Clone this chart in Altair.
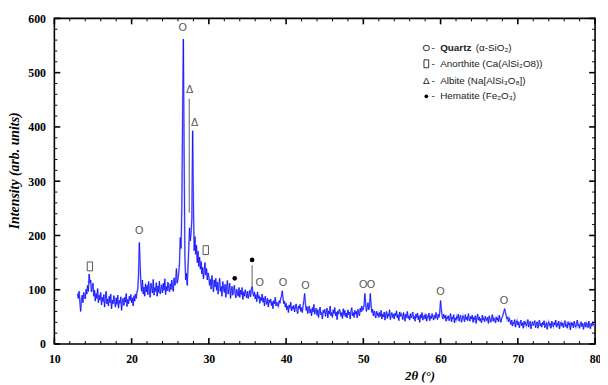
import altair as alt
import pandas as pd

# ---------------- data ----------------
start_angle = 13.0   # first measured 2-theta
angle_step = 0.1     # measurement step

intensity = [
    93, 84, 97, 78, 60, 82, 90, 76, 95, 88,        # 13
    83, 101, 92, 108, 97, 129, 112, 118, 96, 104,  # 14
    112, 88, 99, 79, 93, 84, 102, 76, 90, 81,      # 15
    95, 72, 86, 78, 91, 68, 84, 97, 74, 83,        # 16
    70, 88, 76, 92, 65, 81, 74, 89, 79, 68,        # 17
    85, 73, 90, 66, 80, 75, 87, 62, 79, 84,        # 18
    71, 86, 77, 93, 69, 82, 74, 88, 80, 91,        # 19
    76, 85, 70, 89, 79, 92, 84, 96, 101, 130,      # 20
    187, 148, 112, 97, 118, 92, 105, 88, 111, 96,  # 21
    108, 91, 115, 99, 86, 112, 103, 94, 119, 90,   # 22
    104, 97, 113, 88, 107, 95, 116, 92, 101, 109,  # 23
    94, 112, 99, 120, 91, 106, 98, 114, 103, 96,   # 24
    111, 100, 118, 104, 97, 122, 108, 115, 139, 112,  # 25
    120, 131, 150, 196, 176, 250, 420, 562, 346, 160,  # 26
    118, 130, 108, 142, 175, 214, 190, 205, 232, 393,  # 27
    260, 172, 198, 165, 182, 150, 171, 143, 160, 138,  # 28
    152, 129, 141, 120, 136, 150, 127, 139, 118, 131,  # 29
    124, 108, 119, 101, 126, 112, 96, 118, 105, 121,   # 30
    99, 114, 92, 110, 121, 97, 106, 88, 115, 103,      # 31
    95, 110, 86, 104, 117, 92, 101, 112, 84, 98,       # 32
    106, 90, 99, 108, 93, 85, 101, 94, 88, 104,        # 33
    86, 99, 91, 104, 82, 96, 88, 100, 93, 85,          # 34
    97, 84, 92, 99, 87, 101, 106, 94, 88, 96,          # 35
    83, 91, 78, 96, 84, 89, 75, 86, 80, 92,            # 36
    77, 85, 70, 88, 79, 73, 84, 68, 81, 76,            # 37
    83, 71, 78, 65, 80, 74, 86, 70, 77, 72,            # 38
    69, 80, 75, 84, 88, 98, 85, 74, 79, 68,            # 39
    75, 63, 70, 58, 72, 66, 77, 61, 69, 64,            # 40
    71, 59, 68, 74, 62, 56, 70, 65, 73, 60,            # 41
    67, 58, 71, 80, 93, 75, 62, 69, 56, 64,            # 42
    70, 57, 64, 52, 67, 59, 73, 55, 62, 66,            # 43
    53, 63, 49, 60, 68, 54, 58, 46, 62, 57,            # 44
    64, 51, 59, 66, 48, 61, 55, 70, 52, 58,            # 45
    49, 63, 56, 67, 52, 59, 45, 61, 55, 64,            # 46
    60, 51, 58, 47, 65, 53, 62, 50, 57, 48,            # 47
    63, 54, 59, 46, 61, 67, 52, 58, 49, 62,            # 48
    55, 60, 48, 64, 57, 52, 66, 59, 70, 62,            # 49
    64, 72, 93, 74, 60, 67, 76, 63, 70, 93,            # 50
    72, 58, 64, 52, 61, 55, 48, 60, 53, 57,            # 51
    49, 58, 51, 62, 46, 55, 50, 59, 44, 54,            # 52
    60, 47, 56, 51, 63, 45, 53, 58, 49, 55,            # 53
    46, 57, 52, 61, 48, 54, 43, 59, 51, 56,            # 54
    53, 45, 58, 50, 42, 55, 49, 60, 47, 52,            # 55
    44, 56, 48, 53, 59, 46, 51, 42, 55, 49,            # 56
    57, 45, 52, 40, 54, 48, 58, 44, 50, 53,            # 57
    46, 55, 42, 51, 49, 57, 43, 52, 47, 56,            # 58
    50, 44, 53, 47, 58, 51, 45, 55, 49, 60,            # 59
    80, 63, 52, 46, 55, 48, 53, 42, 50, 47,            # 60
    52, 43, 49, 56, 41, 50, 46, 54, 39, 48,            # 61
    44, 51, 47, 55, 42, 49, 53, 40, 46, 52,            # 62
    48, 41, 54, 45, 50, 43, 56, 47, 42, 51,            # 63
    46, 53, 40, 49, 45, 52, 38, 48, 55, 44,            # 64
    50, 42, 47, 39, 53, 44, 48, 41, 51, 46,            # 65
    43, 49, 38, 52, 45, 40, 47, 54, 42, 48,            # 66
    45, 39, 50, 44, 48, 41, 53, 46, 40, 47,            # 67
    50, 55, 60, 65, 58, 52, 46, 50, 41, 47,            # 68
    42, 36, 44, 33, 40, 37, 45, 31, 39, 43,            # 69
    35, 41, 30, 38, 44, 34, 39, 29, 42, 36,            # 70
    40, 33, 37, 45, 31, 38, 42, 28, 36, 41,            # 71
    34, 39, 43, 30, 37, 41, 29, 38, 44, 33,            # 72
    38, 31, 40, 35, 43, 30, 36, 39, 27, 37,            # 73
    41, 34, 38, 29, 42, 36, 32, 40, 35, 44,            # 74
    31, 38, 34, 42, 28, 37, 40, 33, 39, 30,            # 75
    37, 43, 32, 36, 29, 41, 35, 38, 26, 40,            # 76
    34, 39, 30, 42, 35, 31, 38, 44, 33, 36,            # 77
    29, 37, 41, 32, 38, 27, 35, 40, 31, 39,            # 78
    36, 30, 42, 34, 28, 38, 33, 41, 35, 37,            # 79
    34,                                                # 80
]

# phase markers placed above the peaks
marker_x = [14.6, 21.0, 26.6, 27.5, 28.15, 29.6, 33.35, 35.6, 36.6, 39.6, 42.5, 50.0, 51.0, 60.0, 68.2]
marker_y = [143, 208, 582, 468, 408, 173, 121, 155, 112, 113, 106, 109, 109, 96, 80]
marker_sym = ["box", "O", "O", "Δ", "Δ", "box", "dot", "dot", "O", "O", "O", "O", "O", "O", "O"]

# grey stick lines of the annotation
stick_x = [27.47, 35.6]
stick_lo = [242, 107]
stick_hi = [452, 145]

x_major = [10, 20, 30, 40, 50, 60, 70, 80]
y_major = [0, 100, 200, 300, 400, 500, 600]
x_minor = [v for v in range(12, 80, 2) if v % 10 != 0]
y_minor = [v for v in range(20, 600, 20) if v % 100 != 0]

legend_sym = ["O", "box", "Δ", "dot"]
legend_name = ["Quartz", "Anorthite", "Albite", "Hematite"]
legend_formula = ["(α-SiO₂)", "(Ca(AlSi₂O8))", "(Na[AlSi₃O₈])", "(Fe₂O₃)"]

# ---------------- chart ----------------
W, H = 548, 330
xs = alt.Scale(domain=[10, 80], nice=False, zero=False)
ys = alt.Scale(domain=[0, 600], nice=False, zero=False)
SERIF = "Liberation Serif"
SANS = "Liberation Sans"
GREY = "#555555"
BOX = "M-0.6,-1H0.6V1H-0.6Z"

XAX = alt.Axis(values=x_major, ticks=False, domain=False, grid=False,
               labelFont=SERIF, labelFontWeight="bold", labelFontSize=12,
               labelColor="black", labelPadding=10, labelFlush=False,
               title="2θ (°)", titleFont=SERIF, titleFontStyle="italic",
               titleFontWeight="bold", titleFontSize=13, titleColor="black",
               titleX=370, titleY=32, titleAlign="center", titleBaseline="middle")
YAX = alt.Axis(values=y_major, ticks=False, domain=False, grid=False,
               labelFont=SERIF, labelFontWeight="bold", labelFontSize=12,
               labelColor="black", labelPadding=9, labelFlush=False,
               title="Intensity (arb. units)", titleFont=SERIF,
               titleFontStyle="italic", titleFontWeight="bold",
               titleFontSize=14, titleColor="black",
               titleX=-40, titleY=154, titleAlign="center",
               titleBaseline="middle", titleAngle=270)


def X(field):
    return alt.X(field, scale=xs, axis=XAX)


def Y(field):
    return alt.Y(field, scale=ys, axis=YAX)


angles = [round(start_angle + angle_step * i, 2) for i in range(len(intensity))]
df = pd.DataFrame({"angle": angles, "intensity": intensity})

halo = alt.Chart(df).mark_line(color="#8c8cff", strokeWidth=1.8, opacity=0.7, clip=True).encode(
    x=X("angle:Q"), y=Y("intensity:Q"))
line = alt.Chart(df).mark_line(color="#0a0aff", strokeWidth=0.8, clip=True).encode(
    x=X("angle:Q"), y=Y("intensity:Q"))


def xticks(values, length, width):
    d = pd.DataFrame({"angle": values})
    bottom = alt.Chart(d).mark_rule(color="black", strokeWidth=width).encode(
        x=X("angle:Q"), y=alt.value(H), y2=alt.value(H - length))
    top = alt.Chart(d).mark_rule(color="black", strokeWidth=width).encode(
        x=X("angle:Q"), y=alt.value(0), y2=alt.value(length))
    return [bottom, top]


def yticks(values, length, width):
    d = pd.DataFrame({"intensity": values})
    left = alt.Chart(d).mark_rule(color="black", strokeWidth=width).encode(
        y=Y("intensity:Q"), x=alt.value(0), x2=alt.value(length))
    right = alt.Chart(d).mark_rule(color="black", strokeWidth=width).encode(
        y=Y("intensity:Q"), x=alt.value(W), x2=alt.value(W - length))
    return [left, right]


ticks = (xticks(x_major, 6, 1.6) + xticks(x_minor, 3, 1) +
         yticks(y_major, 6, 1.6) + yticks(y_minor, 3, 1))

mk = pd.DataFrame({"angle": marker_x, "intensity": marker_y, "s": marker_sym})
letters = alt.Chart(mk).transform_filter(
    "datum.s == 'O' || datum.s == 'Δ'").mark_text(
    font=SANS, fontSize=11, color=GREY, baseline="middle").encode(
    x=X("angle:Q"), y=Y("intensity:Q"), text="s:N")
boxes = alt.Chart(mk).transform_filter("datum.s == 'box'").mark_point(
    shape=BOX, size=81, filled=False, stroke=GREY, strokeWidth=1, opacity=1).encode(
    x=X("angle:Q"), y=Y("intensity:Q"))
dots = alt.Chart(mk).transform_filter("datum.s == 'dot'").mark_point(
    shape="circle", size=22, filled=True, color="black", opacity=1).encode(
    x=X("angle:Q"), y=Y("intensity:Q"))

st = pd.DataFrame({"angle": stick_x, "intensity": stick_lo, "hi": stick_hi})
sticks = alt.Chart(st).mark_rule(color="#8a8a8a", strokeWidth=1.4).encode(
    x=X("angle:Q"), y=Y("intensity:Q"), y2="hi:Q")

# legend (pixel layout inside the plot area)
one = alt.Data(values=[{}])
leg = []
row_y = [30, 46, 63, 79]
for i, (sym, name, form) in enumerate(zip(legend_sym, legend_name, legend_formula)):
    yy = row_y[i]
    if sym == "box":
        leg.append(alt.Chart(one).mark_point(shape=BOX, size=64, filled=False, stroke="#333",
                                             strokeWidth=1, opacity=1).encode(
            x=alt.value(377), y=alt.value(yy)))
    elif sym == "dot":
        leg.append(alt.Chart(one).mark_point(shape="circle", size=14, filled=True,
                                             color="black", opacity=1).encode(
            x=alt.value(377), y=alt.value(yy)))
    else:
        leg.append(alt.Chart(one).mark_text(text=sym, font=SANS, fontSize=10, color="#222",
                                            align="center", baseline="middle").encode(
            x=alt.value(377), y=alt.value(yy)))
    leg.append(alt.Chart(one).mark_text(text="-", font=SANS, fontSize=10, color="#222",
                                        align="center", baseline="middle").encode(
        x=alt.value(384), y=alt.value(yy)))
    if name == "Quartz":
        leg.append(alt.Chart(one).mark_text(text=name, font=SANS, fontSize=10, fontWeight="bold",
                                            color="#222", align="left", baseline="middle").encode(
            x=alt.value(391), y=alt.value(yy)))
        leg.append(alt.Chart(one).mark_text(text=form, font=SANS, fontSize=10, color="#222",
                                            align="left", baseline="middle").encode(
            x=alt.value(427), y=alt.value(yy)))
    else:
        leg.append(alt.Chart(one).mark_text(text=name + " " + form, font=SANS, fontSize=10,
                                            color="#222", align="left",
                                            baseline="middle").encode(
            x=alt.value(391), y=alt.value(yy)))

chart = alt.layer(halo, line, *ticks, sticks, letters, boxes, dots, *leg).properties(
    width=W, height=H,
    autosize=alt.AutoSizeParams(type="none"),
    padding={"left": 47, "top": 8, "right": 5, "bottom": 38},
    background="white",
).configure_view(stroke="black", strokeWidth=1.6)

chart.save("out.html", embed_options={"renderer": "svg", "actions": False})
